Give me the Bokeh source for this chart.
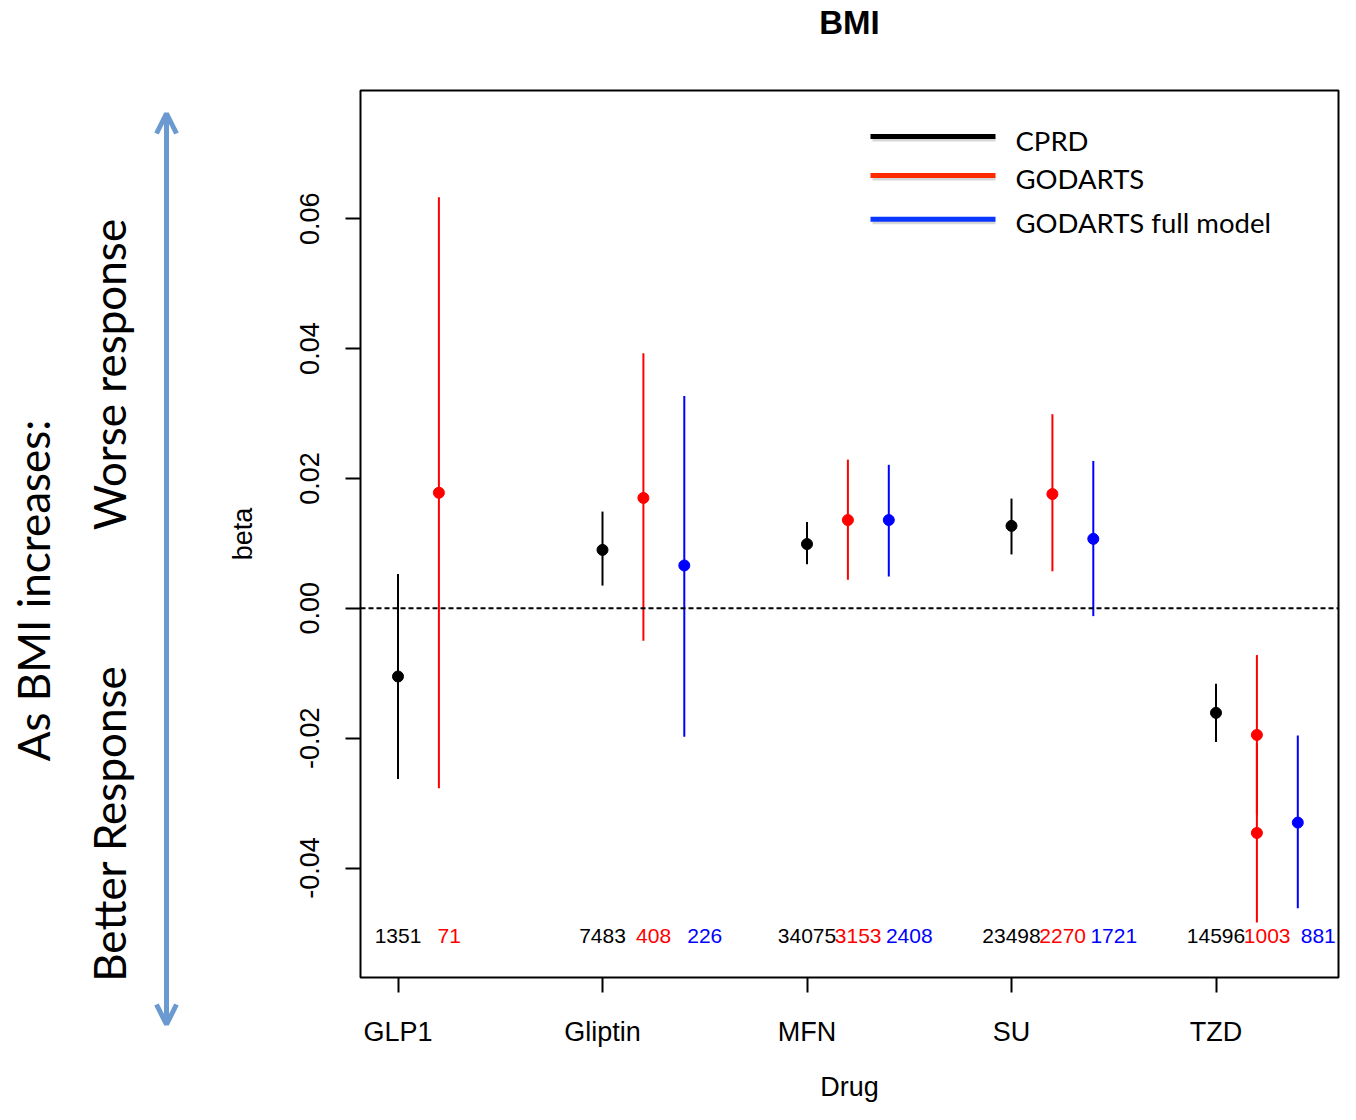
import math
from bokeh.plotting import figure
from bokeh.layouts import row
from bokeh.models import (Range1d, FixedTicker, Label, Span, Arrow, OpenHead,
                          NumeralTickFormatter, LinearAxis)
from bokeh.core.properties import value
from bokeh.embed import file_html
from bokeh.resources import INLINE

# ---------------- data ----------------
drugs = ["GLP1", "Gliptin", "MFN", "SU", "TZD"]

cprd_drug = ["GLP1", "Gliptin", "MFN", "SU", "TZD"]
cprd_beta = [-0.0105, 0.0090, 0.0099, 0.0127, -0.0161]
cprd_lo = [-0.0263, 0.0035, 0.0068, 0.0083, -0.0206]
cprd_hi = [0.0053, 0.0149, 0.0133, 0.0169, -0.0116]
cprd_n = ["1351", "7483", "34075", "23498", "14596"]

godarts_drug = ["GLP1", "Gliptin", "MFN", "SU", "TZD", "TZD"]
godarts_beta = [0.0178, 0.0170, 0.0136, 0.0176, -0.0195, -0.0346]
godarts_lo = [-0.0277, -0.0050, 0.0044, 0.0057, -0.0318, -0.0484]
godarts_hi = [0.0633, 0.0393, 0.0229, 0.0299, -0.0072, -0.0208]
godarts_n_drug = ["GLP1", "Gliptin", "MFN", "SU", "TZD"]
godarts_n = ["71", "408", "3153", "2270", "1003"]

full_drug = ["Gliptin", "MFN", "SU", "TZD"]
full_beta = [0.0066, 0.0136, 0.0107, -0.0330]
full_lo = [-0.0198, 0.0049, -0.0012, -0.0462]
full_hi = [0.0327, 0.0221, 0.0227, -0.0196]
full_n = ["226", "2408", "1721", "881"]

ytick_values = [-0.04, -0.02, 0.0, 0.02, 0.04, 0.06]
series_names = ["CPRD", "GODARTS", "GODARTS full model"]
side_texts = ["As BMI increases:", "Worse response", "Better Response"]
chart_title = "BMI"

# ---------------- layout (pixels) ----------------
W, H = 1340, 1104
LEFT_W = 200
MAIN_W = W - LEFT_W
FRAME_L, FRAME_T, FRAME_R, FRAME_B = 360, 90, 1338, 978
PX_PER_X = 204.5
FIRST_TICK_PX = 397.5
Y_ZERO_PX = 608.4
PX_PER_Y = 6500.0
X0 = 1 - (FIRST_TICK_PX - FRAME_L) / PX_PER_X
X1 = X0 + (FRAME_R - FRAME_L) / PX_PER_X
Y1 = (Y_ZERO_PX - FRAME_T) / PX_PER_Y
Y0 = (Y_ZERO_PX - FRAME_B) / PX_PER_Y


def dx(px):
    return X0 + (px - FRAME_L) / PX_PER_X


def dy(py):
    return (Y_ZERO_PX - py) / PX_PER_Y


pos = {d: i + 1 for i, d in enumerate(drugs)}
OFF = [0.0, 0.2, 0.4]
NOFF = [0.0, 0.25, 0.5]
COLORS = ["black", "#ff0000", "#0000ff"]
RFONT = "Liberation Sans"
LFONT = "Lato"

# ---------------- left annotation panel ----------------
left = figure(width=LEFT_W, height=H, x_range=Range1d(0, LEFT_W), y_range=Range1d(0, H),
              output_backend="svg", toolbar_location=None, x_axis_type=None, y_axis_type=None,
              title=None, frame_align=False,
              min_border_left=0, min_border_right=0, min_border_top=0, min_border_bottom=0)
left.grid.visible = False
left.outline_line_color = None
left.background_fill_color = "white"
left.border_fill_color = "white"
side_x = [32, 108, 108]
side_y = [H - 590, H - 374, H - 823]
left.text(x=side_x, y=side_y, text=side_texts, angle=math.pi / 2, text_font=value(LFONT),
          text_font_size="44px", text_align="center", text_baseline="middle", text_color="black")
ARROW_C = "#6a9ad0"
left.add_layout(Arrow(x_start=166, y_start=H - 1024, x_end=166, y_end=H - 113,
                      line_color=ARROW_C, line_width=5,
                      start=OpenHead(size=20, line_color=ARROW_C, line_width=5),
                      end=OpenHead(size=20, line_color=ARROW_C, line_width=5)))

# ---------------- main plot ----------------
p = figure(width=MAIN_W, height=H, x_range=Range1d(X0, X1), y_range=Range1d(Y0, Y1),
           output_backend="svg", toolbar_location=None, title=None, frame_align=False,
           min_border_left=FRAME_L - LEFT_W, min_border_right=W - FRAME_R,
           min_border_top=FRAME_T, min_border_bottom=H - FRAME_B)
p.grid.visible = False
p.outline_line_color = "black"
p.outline_line_width = 2
p.outline_line_alpha = 1
p.background_fill_color = "white"
p.border_fill_color = "white"

xax = p.below[0]
yax = p.left[0]

# title drawn as the label of an empty axis above the frame
top_ax = LinearAxis(ticker=FixedTicker(ticks=[]), axis_line_color=None,
                    major_tick_line_color=None, minor_tick_line_color=None,
                    major_tick_out=0, major_tick_in=0, major_label_standoff=0,
                    axis_label=chart_title, axis_label_text_font=RFONT,
                    axis_label_text_font_style="bold", axis_label_text_font_size="33px",
                    axis_label_text_color="black", axis_label_standoff=50)
p.add_layout(top_ax, "above")

for ax in (xax, yax):
    ax.axis_line_color = None
    ax.major_tick_out = 15
    ax.major_tick_in = 0
    ax.major_tick_line_width = 2
    ax.major_tick_line_color = "black"
    ax.minor_tick_line_color = None
    ax.major_label_text_font = RFONT
    ax.major_label_text_font_size = "27px"
    ax.major_label_text_color = "black"
    ax.axis_label_text_font = RFONT
    ax.axis_label_text_font_size = "27px"
    ax.axis_label_text_font_style = "normal"
    ax.axis_label_text_color = "black"

xax.ticker = FixedTicker(ticks=[pos[d] for d in drugs])
xax.major_label_overrides = {pos[d]: d for d in drugs}
xax.major_label_standoff = 24
xax.axis_label = "Drug"
xax.axis_label_standoff = 22

yax.ticker = FixedTicker(ticks=ytick_values)
yax.formatter = NumeralTickFormatter(format="0.00")
yax.major_label_orientation = "vertical"
yax.major_label_standoff = 26
yax.axis_label = "beta"
yax.axis_label_standoff = 40

p.add_layout(Span(location=0, dimension="width", line_color="black",
                  line_width=2, line_dash="5 3"))

series = [
    (cprd_drug, cprd_beta, cprd_lo, cprd_hi),
    (godarts_drug, godarts_beta, godarts_lo, godarts_hi),
    (full_drug, full_beta, full_lo, full_hi),
]
for k, (dr, b, lo, hi) in enumerate(series):
    xs = [pos[d] + OFF[k] for d in dr]
    p.segment(x0=xs, y0=lo, x1=xs, y1=hi, line_color=COLORS[k], line_width=2)
    p.scatter(x=xs, y=b, size=11, fill_color=COLORS[k], line_color=COLORS[k])

n_series = [(cprd_drug, cprd_n), (godarts_n_drug, godarts_n), (full_drug, full_n)]
for k, (dr, nn) in enumerate(n_series):
    xs = [pos[d] + NOFF[k] for d in dr]
    p.text(x=xs, y=[dy(936)] * len(xs), text=nn, text_font=value(RFONT),
           text_font_size="21px", text_align="center", text_baseline="middle",
           text_color=COLORS[k])

# legend
LEG_COLORS = ["black", "#ff2a00", "#0a37ff"]
leg_line_y = [136, 175, 219]
leg_text_y = [140, 178, 222]
for k in range(3):
    p.segment(x0=[dx(872)], y0=[dy(leg_line_y[k] + 3)], x1=[dx(995)], y1=[dy(leg_line_y[k] + 3)],
              line_color="#b0b0b0", line_width=4, line_alpha=0.5)
    p.segment(x0=[dx(870)], y0=[dy(leg_line_y[k])], x1=[dx(995)], y1=[dy(leg_line_y[k])],
              line_color=LEG_COLORS[k], line_width=5)
    p.add_layout(Label(x=dx(1015), y=dy(leg_text_y[k]), text=series_names[k],
                       text_font=LFONT, text_font_size="27.5px", text_align="left",
                       text_baseline="middle", text_color="black"))

open("out.html", "w").write(file_html(row(left, p), INLINE))
